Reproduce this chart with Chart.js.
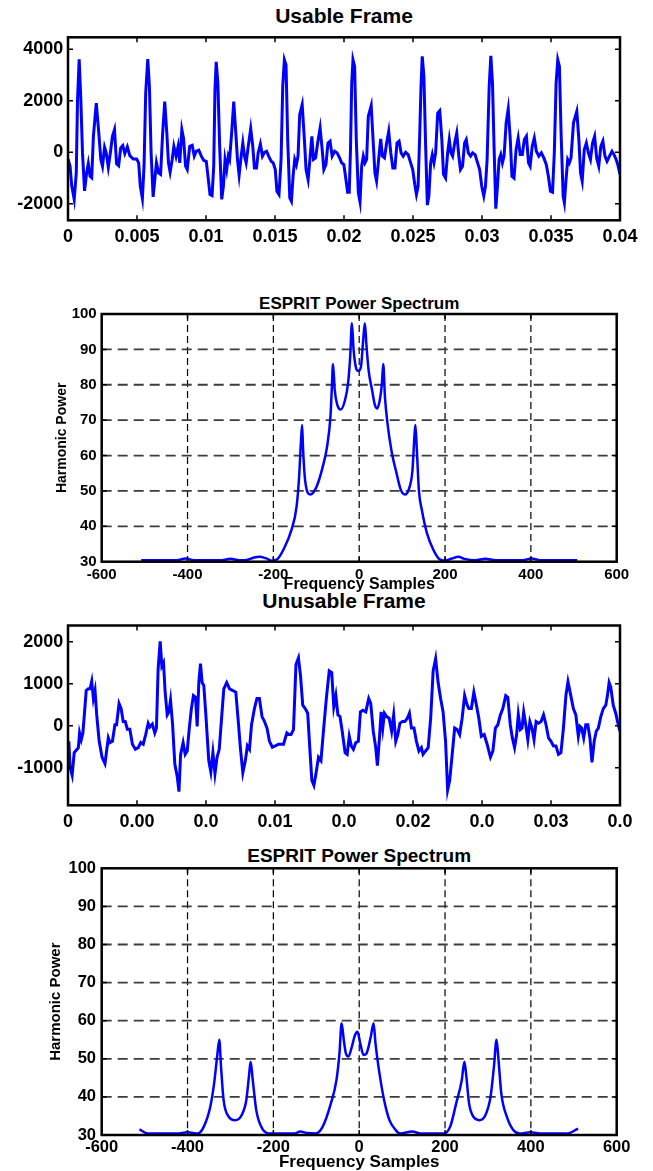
<!DOCTYPE html>
<html>
<head>
<meta charset="utf-8">
<script src="https://cdn.jsdelivr.net/npm/chart.js@4.4.1/dist/chart.umd.min.js"></script>
<style>
  html, body { margin: 0; padding: 0; background: #fff; overflow: hidden; }
  body { width: 653px; height: 1171px; position: relative; font-family: "Liberation Sans", Arial, sans-serif; font-weight: bold; color: #000; }
  canvas { position: absolute; left: 0; }
  .title { position: absolute; text-align: center; white-space: nowrap; line-height: 1; }
</style>
</head>
<body>
<div class="title" style="left:68px;width:552px;top:4.5px;font-size:21px;">Usable Frame</div>
<div class="title" style="left:101.7px;width:515px;top:294.5px;font-size:17px;">ESPRIT Power Spectrum</div>
<div class="title" style="left:68px;width:552px;top:589.5px;font-size:21px;">Unusable Frame</div>
<div class="title" style="left:101.7px;width:515px;top:845.5px;font-size:19px;">ESPRIT Power Spectrum</div>
<canvas id="usableChart" width="653" height="255"></canvas>
<canvas id="usableSpectrum" width="653" height="303"></canvas>
<canvas id="unusableChart" width="653" height="230"></canvas>
<canvas id="unusableSpectrum" width="653" height="321"></canvas>
<script>
// time axis is in ms, labelled in seconds
const timeTicks = [0, 5, 10, 15, 20, 25, 30, 35, 40];
const usableTimeLabels = ['0', '0.005', '0.01', '0.015', '0.02', '0.025', '0.03', '0.035', '0.04'];
const unusableTimeLabels = ['0', '0.00', '0.0', '0.01', '0.0', '0.02', '0.0', '0.03', '0.0'];
const usableAmpTicks = [-2000, 0, 2000, 4000];
const unusableAmpTicks = [-1000, 0, 1000, 2000];
const freqTicks = [-600, -400, -200, 0, 200, 400, 600];
const powerTicks = [30, 40, 50, 60, 70, 80, 90, 100];

// usable frame, one line per pitch period
const usableTime = [
  0.00, 0.15, 0.27, 0.45, 0.60, 0.69, 0.81, 0.93, 1.05, 1.20, 1.35, 1.47, 1.60, 1.72, 1.84, 2.05, 2.23, 2.38, 2.50, 2.65, 2.77, 2.92, 3.07, 3.22, 3.37, 3.52, 3.67, 3.82, 3.97, 4.12, 4.30, 4.48, 4.73, 4.97, 5.12,
  5.24, 5.39, 5.51, 5.63, 5.78, 5.90, 6.02, 6.17, 6.29, 6.41, 6.56, 6.71, 6.86, 7.01, 7.16, 7.28, 7.40, 7.55, 7.67, 7.83, 7.98, 8.10, 8.25, 8.37, 8.52, 8.64, 8.82, 9.00, 9.15, 9.30, 9.48, 9.66, 9.84, 10.02, 10.17, 10.29, 10.44,
  10.56, 10.65, 10.74, 10.86, 10.99, 11.14, 11.26, 11.38, 11.50, 11.62, 11.71, 11.86, 12.01, 12.16, 12.28, 12.40, 12.55, 12.67, 12.79, 12.91, 13.06, 13.24, 13.39, 13.51, 13.66, 13.78, 13.94, 14.09, 14.24, 14.39, 14.54, 14.72, 14.87, 15.02, 15.14, 15.29,
  15.44, 15.56, 15.68, 15.80, 15.92, 16.07, 16.19, 16.31, 16.43, 16.55, 16.67, 16.79, 16.97, 17.13, 17.25, 17.40, 17.55, 17.67, 17.79, 17.94, 18.09, 18.27, 18.42, 18.54, 18.69, 18.84, 18.99, 19.14, 19.32, 19.50, 19.68, 19.83, 19.99, 20.14, 20.26, 20.38,
  20.47, 20.56, 20.65, 20.77, 20.89, 21.04, 21.16, 21.28, 21.40, 21.52, 21.64, 21.76, 21.97, 22.12, 22.24, 22.36, 22.51, 22.66, 22.78, 22.93, 23.09, 23.24, 23.39, 23.54, 23.69, 23.84, 23.99, 24.14, 24.29, 24.47, 24.65, 24.83, 24.98, 25.13, 25.25, 25.37,
  25.49, 25.58, 25.67, 25.79, 25.91, 26.04, 26.15, 26.28, 26.40, 26.52, 26.64, 26.79, 26.94, 27.09, 27.21, 27.36, 27.51, 27.63, 27.75, 27.87, 28.02, 28.17, 28.32, 28.44, 28.59, 28.74, 28.86, 29.01, 29.17, 29.32, 29.50, 29.68, 29.83, 29.98, 30.13, 30.25,
  30.37, 30.52, 30.64, 30.76, 30.88, 31.00, 31.12, 31.24, 31.36, 31.48, 31.60, 31.75, 31.90, 32.05, 32.17, 32.32, 32.47, 32.62, 32.77, 32.92, 33.07, 33.22, 33.37, 33.49, 33.64, 33.79, 33.94, 34.12, 34.30, 34.48, 34.66, 34.81, 34.96, 35.11,
  35.24, 35.37, 35.49, 35.61, 35.73, 35.88, 35.97, 36.09, 36.21, 36.33, 36.45, 36.63, 36.87, 37.02, 37.14, 37.26, 37.41, 37.56, 37.71, 37.86, 38.01, 38.16, 38.31, 38.46, 38.61, 38.76, 38.91, 39.06, 39.24, 39.42, 39.57, 39.72, 39.84, 40.00
];
const usableAmp = [
  -260, -540, -1300, -1830, -800, 2040, 3610, 2040, -25, -1500, -800, -440, -930, -990, 620, 1910, 750, -280, -540, 190, -25, -580, -25, 620, 880, -450, -520, 170, 260, -50, 210, -130, -260, -260, -410,
  -1320, -1790, -540, 2300, 3610, 2550, 0, -1730, -1060, -410, -800, -860, 750, 1970, 750, -410, -770, -280, 230, -150, 230, -410, 880, 550, -540, -670, 230, 270, -150, 40, 80, -150, -320, -350, -1060, -1640, -1680,
  -540, 2430, 3510, 2680, 230, -1830, -1320, -280, -670, -150, -280, 750, 1970, 750, -280, -890, -150, 360, -150, -410, 230, 920, 230, -610, -610, -25, 320, -150, 0, 40, -150, -350, -410, -670, -1510, -1640,
  -280, 2550, 3590, 3390, 490, -1770, -1900, -930, -280, -480, -150, 1460, 1850, 490, -670, -1060, -150, 620, -280, -220, 360, 940, 100, -670, -480, 360, 430, -150, 40, -25, -220, -410, -480, -1060, -1550, -1550,
  100, 2680, 3590, 3330, 490, -1570, -1920, -540, -150, -410, -280, 1390, 1810, 360, -800, -1120, -280, 520, -150, -220, 360, 810, -25, -610, -610, 360, 430, -25, -150, 0, -90, -410, -670, -1250, -1640, -1320,
  750, 2550, 3720, 2940, 360, -2050, -1700, -410, -90, -410, -25, 1520, 1610, 490, -860, -1000, -25, 490, -25, -150, 360, 750, -150, -670, -540, 360, 490, -25, -150, -25, -90, -410, -670, -1320, -1700, -1320,
  -280, 2550, 3740, 2680, 100, -2190, -1320, -280, -90, -410, -150, 1140, 1680, 490, -930, -1000, 100, 550, -90, -90, 490, 620, -410, -540, 230, 550, 40, -150, -25, -220, -480, -930, -1510, -1550,
  -25, 2680, 3590, 3330, 750, -1700, -1960, -1060, -280, -410, -220, 1140, 1590, 490, -800, -1120, 100, 360, -25, -280, 360, 620, -220, -540, 230, 430, -150, -350, -150, 40, -90, -280, -480, -860
];

const unusableTime = [
  0.06, 0.15, 0.30, 0.45, 0.66, 0.75, 0.84, 0.96, 1.08, 1.20, 1.32, 1.47, 1.60, 1.72, 1.84, 1.96, 2.08, 2.26, 2.47, 2.68,
  2.92, 3.04, 3.22, 3.40, 3.52, 3.70, 3.85, 4.00, 4.15, 4.30, 4.48, 4.67, 4.88, 5.09, 5.27, 5.45, 5.63, 5.81, 5.93, 6.11,
  6.29, 6.41, 6.53, 6.68, 6.80, 6.92, 7.04, 7.19, 7.31, 7.43, 7.58, 7.74, 7.92, 8.04, 8.16, 8.34, 8.49, 8.64, 8.79, 8.94,
  9.09, 9.24, 9.36, 9.48, 9.60, 9.72, 9.84, 9.99, 10.20, 10.35, 10.50, 10.65, 10.80, 10.96, 11.11, 11.29, 11.50, 11.71, 11.95, 12.16,
  12.34, 12.49, 12.67, 12.85, 13.00, 13.15, 13.30, 13.51, 13.69, 13.87, 14.06, 14.24, 14.42, 14.60, 14.81, 15.02, 15.26, 15.44, 15.62, 15.86,
  16.01, 16.16, 16.34, 16.52, 16.70, 16.85, 17.01, 17.19, 17.37, 17.52, 17.67, 17.82, 17.97, 18.15, 18.33, 18.51, 18.72, 18.93, 19.11, 19.26,
  19.41, 19.56, 19.71, 19.87, 20.08, 20.23, 20.38, 20.53, 20.68, 20.86, 21.04, 21.19, 21.37, 21.58, 21.79, 21.94, 22.12, 22.30, 22.42, 22.57,
  22.69, 22.81, 22.93, 23.09, 23.27, 23.45, 23.60, 23.75, 23.90, 24.05, 24.23, 24.41, 24.59, 24.74, 24.89, 25.07, 25.25, 25.43, 25.61, 25.73,
  25.91, 26.10, 26.28, 26.46, 26.64, 26.82, 27.00, 27.18, 27.36, 27.51, 27.66, 27.84, 28.02, 28.20, 28.38, 28.56, 28.74, 28.93, 29.05, 29.23,
  29.41, 29.62, 29.77, 29.95, 30.16, 30.37, 30.61, 30.79, 30.97, 31.15, 31.33, 31.51, 31.72, 31.87, 32.05, 32.20, 32.36, 32.51, 32.63, 32.78,
  32.90, 33.02, 33.17, 33.32, 33.47, 33.62, 33.77, 33.92, 34.10, 34.28, 34.46, 34.64, 34.82, 35.00, 35.18, 35.36, 35.54, 35.72, 35.90, 36.08,
  36.23, 36.41, 36.62, 36.80, 36.98, 37.10, 37.22, 37.37, 37.52, 37.67, 37.82, 37.97, 38.13, 38.28, 38.43, 38.61, 38.79, 38.97, 39.09, 39.21,
  39.33, 39.51, 39.69, 39.87, 40.00
];
const unusableAmp = [
  -370, -990, -1180, -640, -560, -520, -170, -330, -170, 330, 840, 880, 880, 1060, 650, 840, 260, -370, -750, -900,
  -290, -400, -370, 25, 25, 530, 410, 100, 100, -80, -80, -440, -560, -520, -400, -440, -210, 60, -30, 40,
  -170, -55, 1350, 2010, 1420, 1500, 800, 260, 330, 610, 25, -910, -1220, -1570, -680, -400, -680, -600, -55, 410,
  720, 680, -15, 1030, 1480, 1030, 960, 260, -830, -1100, -640, -1140, -750, -560, 100, 880, 1030, 880, 840, 800,
  100, -520, -1120, -830, -480, -560, 25, 410, 650, 650, 220, 100, -55, -370, -510, -480, -440, -440, -440, -170,
  -210, -210, -90, 1460, 1620, 1190, 490, 410, 300, -520, -1300, -1420, -1140, -750, -830, -130, 650, 1310, 1270, 450,
  720, 260, 220, -130, -640, -680, -250, -480, -560, -400, -370, 330, 370, 330, 650, 530, -130, -520, -950, -290,
  330, -55, 300, 220, 180, -130, 260, -370, -210, 60, 100, 100, 180, 300, -55, -55, -370, -600, -520, -680,
  -600, -520, 180, 1310, 1600, 1030, 650, 330, -370, -1530, -1300, -680, -55, -90, -210, 180, 720, 490, 410, 410,
  800, 450, 180, -250, -210, -440, -750, -600, -55, 25, 260, 410, 720, 680, 25, -290, -520, -210, 270, -90,
  -55, 330, 25, -330, 100, -55, -330, 100, 60, 100, 260, 25, -290, -370, -480, -480, -680, -640, -55, 720,
  1050, 760, 410, 260, -250, -15, -55, -290, 25, 25, -290, -870, -370, -130, -55, 220, 410, 490, 720, 1030,
  920, 490, 300, 25, -130
];

const usableFreq = [
  -508, -425, -405, -385, -320, -300, -280, -262, -245, -232, -218, -203, -190, -177, -158, -146, -140, -136, -133, -131,
  -126, -114, -100, -85, -75, -67, -64, -61, -57, -51, -43, -33, -26, -21, -17, -13, -7, -2,
  4, 9.3, 13.2, 17, 22, 30, 36.5, 42, 48, 53, 56, 60, 66, 75, 87, 97, 106.5, 116, 124, 129, 131, 134,
  139, 146, 158, 173, 187, 200, 216, 231, 245, 270, 294, 318, 381, 401, 425, 508
];
const usablePower = [
  30.4, 30.4, 30.9, 30.4, 30.4, 30.8, 30.4, 30.5, 31.2, 31.4, 31.0, 30.3, 30.8, 33.3, 38.9, 45.5, 54, 63.4, 68.6, 62.4,
  53, 49, 51, 56.8, 62.4, 71, 78.5, 85.9, 78.5, 74.3, 73, 75.7, 80.4, 87.9, 97.4, 89.8, 84.6, 83.9,
  85, 92.6, 97.4, 91, 84, 78.5, 74.3, 73.3, 75.7, 80.4, 85.9, 76.6, 69, 61.5, 55, 50.3, 49, 50.6, 55.7, 66.1, 68.6, 62.4,
  50.3, 44.6, 38, 33.3, 30.7, 30.3, 30.9, 31.4, 30.8, 30.4, 30.8, 30.4, 30.4, 30.9, 30.4, 30.4
];

const unusableFreq = [
  -512, -493, -425, -400, -376, -362, -347, -338, -331, -326, -322, -316, -304, -289, -274, -263, -257, -253, -248, -240,
  -226, -206, -150, -138, -120, -102, -85, -66, -53, -46, -41, -36, -31, -25, -17, -10, -4, 2.5, 10, 17,
  27, 33.5, 38, 46, 58, 70.5, 85, 95, 124, 143, 197, 212, 226, 239, 245, 249, 256, 266, 280, 294,
  306, 314, 320, 324, 331, 344, 359, 374, 398, 427, 486, 510
];
const unusablePower = [
  31.5, 30.4, 30.4, 30.7, 30.4, 32.2, 37.4, 43.6, 50.6, 55, 48, 39.2, 34.8, 33.9, 35.2, 39.2, 45.3, 49.2, 44.4, 36.6,
  31.7, 30.4, 30.4, 30.9, 30.5, 30.4, 32.2, 38.3, 44.4, 51.4, 59.3, 55, 51.4, 50.6, 53.2, 56.2, 57.1, 54, 51, 51.4,
  55.8, 59.3, 54, 47.1, 39.2, 33.9, 31.3, 30.4, 30.9, 30.4, 30.4, 32.2, 38.3, 44.4, 49.2, 46.1, 38.3, 34.8, 33.9, 35.2,
  40, 48, 55, 50.6, 41, 34.8, 31.3, 30.4, 30.7, 30.4, 30.4, 31.7
];

const FONT = "'Liberation Sans', Arial, Helvetica, sans-serif";

// box, inward tick marks and dashed grid like the matlab axes
const framePlugin = {
  id: 'frame',
  beforeDatasetsDraw(chart, args, opts) {
    if (!opts.grid) return;
    const { ctx, chartArea: a, scales: { x, y } } = chart;
    ctx.save();
    ctx.strokeStyle = '#000';
    ctx.lineWidth = 1.2;
    ctx.setLineDash([7, 4]);
    opts.xTicks.slice(1, -1).forEach((v) => {
      const px = x.getPixelForValue(v);
      ctx.beginPath();
      ctx.moveTo(px, a.top);
      ctx.lineTo(px, a.bottom);
      ctx.stroke();
    });
    ctx.strokeStyle = '#3c3c3c';
    ctx.lineWidth = 1.8;
    ctx.setLineDash([10, 6]);
    opts.yTicks.slice(1, -1).forEach((v) => {
      const py = y.getPixelForValue(v);
      ctx.beginPath();
      ctx.moveTo(a.left, py);
      ctx.lineTo(a.right, py);
      ctx.stroke();
    });
    ctx.restore();
  },
  afterDatasetsDraw(chart, args, opts) {
    const { ctx, chartArea: a, scales: { x, y } } = chart;
    const len = 5;
    ctx.save();
    ctx.strokeStyle = '#000';
    ctx.lineWidth = 1.5;
    ctx.beginPath();
    opts.xTicks.forEach((v) => {
      const px = x.getPixelForValue(v);
      ctx.moveTo(px, a.bottom);
      ctx.lineTo(px, a.bottom - len);
      ctx.moveTo(px, a.top);
      ctx.lineTo(px, a.top + len);
    });
    opts.yTicks.forEach((v) => {
      const py = y.getPixelForValue(v);
      ctx.moveTo(a.left, py);
      ctx.lineTo(a.left + len, py);
      ctx.moveTo(a.right, py);
      ctx.lineTo(a.right - len, py);
    });
    ctx.stroke();
    ctx.lineWidth = 2.5;
    ctx.strokeRect(a.left, a.top, a.right - a.left, a.bottom - a.top);
    ctx.restore();
  }
};

function makePanel(id, p) {
  const canvas = document.getElementById(id);
  canvas.style.top = p.top + 'px';
  const bottomEdge = p.top + canvas.height;
  const tickFont = { family: FONT, weight: 'bold', size: p.tickSize };
  const points = p.xs.map((v, i) => ({ x: v, y: p.ys[i] }));

  return new Chart(canvas, {
    type: 'line',
    data: {
      datasets: [{
        data: points,
        borderColor: '#0000ff',
        borderWidth: p.lineWidth,
        pointRadius: 0,
        fill: false,
        tension: p.smooth ? 0.4 : 0,
        cubicInterpolationMode: p.smooth ? 'monotone' : 'default'
      }]
    },
    options: {
      responsive: false,
      animation: false,
      devicePixelRatio: 1,
      layout: {
        padding: {
          left: p.axisLeft,
          right: 653 - p.right,
          top: p.plotTop - p.top,
          bottom: bottomEdge - p.axisBottom
        }
      },
      plugins: {
        legend: { display: false },
        tooltip: { enabled: false },
        frame: { grid: p.grid, xTicks: p.xTicks, yTicks: p.yTicks }
      },
      scales: {
        x: {
          type: 'linear',
          min: p.xMin,
          max: p.xMax,
          afterBuildTicks: (s) => { s.ticks = p.xTicks.map((v) => ({ value: v })); },
          afterFit: (s) => { s.height = p.axisBottom - p.plotBottom; },
          grid: { display: false, drawTicks: false },
          border: { display: false },
          ticks: {
            autoSkip: false,
            maxRotation: 0,
            padding: p.xPad,
            color: '#000',
            font: tickFont,
            callback: (v, i) => p.xLabels[i]
          },
          title: p.xTitle ? {
            display: true,
            text: p.xTitle,
            color: '#000',
            padding: 0,
            font: { family: FONT, weight: 'bold', size: p.xTitleSize, lineHeight: 1 }
          } : { display: false }
        },
        y: {
          type: 'linear',
          min: p.yMin,
          max: p.yMax,
          afterBuildTicks: (s) => { s.ticks = p.yTicks.map((v) => ({ value: v })); },
          afterFit: (s) => { s.width = p.left - p.axisLeft; },
          grid: { display: false, drawTicks: false },
          border: { display: false },
          ticks: {
            autoSkip: false,
            padding: p.yPad,
            color: '#000',
            font: tickFont,
            callback: (v, i) => String(p.yTicks[i])
          },
          title: p.yTitle ? {
            display: true,
            text: p.yTitle,
            color: '#000',
            padding: 0,
            font: { family: FONT, weight: 'bold', size: p.yTitleSize, lineHeight: 1 }
          } : { display: false }
        }
      }
    },
    plugins: [framePlugin]
  });
}

makePanel('usableChart', {
  top: 0, axisLeft: 0, left: 68, right: 620, plotTop: 37.3, plotBottom: 220.3, axisBottom: 255,
  xs: usableTime, ys: usableAmp, xMin: 0, xMax: 40, yMin: -2640, yMax: 4460,
  xTicks: timeTicks, xLabels: usableTimeLabels, yTicks: usableAmpTicks,
  tickSize: 18, xPad: 5.9, yPad: 4.7, lineWidth: 3, smooth: false, grid: false
});

makePanel('usableSpectrum', {
  top: 290, axisLeft: 55, left: 101.7, right: 616.7, plotTop: 314, plotBottom: 561.7, axisBottom: 593,
  xs: usableFreq, ys: usablePower, xMin: -600, xMax: 600, yMin: 30, yMax: 100,
  xTicks: freqTicks, xLabels: freqTicks.map(String), yTicks: powerTicks,
  tickSize: 15, xPad: 4.3, yPad: 5, lineWidth: 2.5, smooth: true, grid: true,
  xTitle: 'Frequency Samples', xTitleSize: 16, yTitle: 'Harmonic Power', yTitleSize: 14
});

makePanel('unusableChart', {
  top: 610, axisLeft: 0, left: 68, right: 620, plotTop: 622.3, plotBottom: 805.3, axisBottom: 840,
  xs: unusableTime, ys: unusableAmp, xMin: 0, xMax: 40, yMin: -1895, yMax: 2390,
  xTicks: timeTicks, xLabels: unusableTimeLabels, yTicks: unusableAmpTicks,
  tickSize: 18, xPad: 5.6, yPad: 4.7, lineWidth: 3, smooth: false, grid: false
});

makePanel('unusableSpectrum', {
  top: 850, axisLeft: 48.5, left: 101.7, right: 616.7, plotTop: 868.3, plotBottom: 1135, axisBottom: 1170.5,
  xs: unusableFreq, ys: unusablePower, xMin: -600, xMax: 600, yMin: 30, yMax: 100,
  xTicks: freqTicks, xLabels: freqTicks.map(String), yTicks: powerTicks,
  tickSize: 16.5, xPad: 3, yPad: 5.7, lineWidth: 2.5, smooth: true, grid: true,
  xTitle: 'Frequency Samples', xTitleSize: 17, yTitle: 'Harmonic Power', yTitleSize: 15
});
</script>
</body>
</html>
